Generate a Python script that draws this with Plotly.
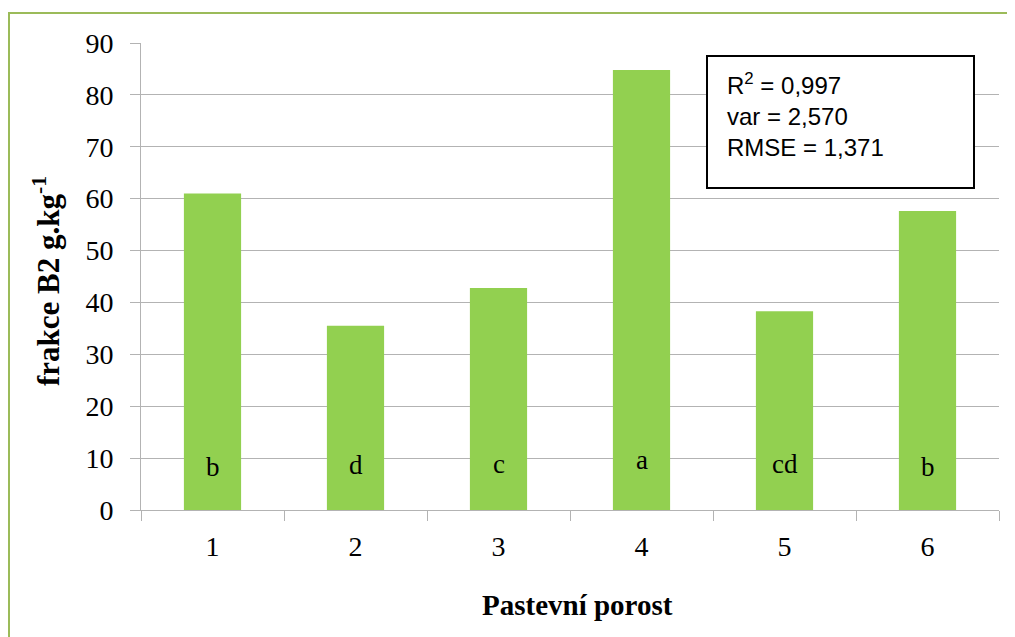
import plotly.graph_objects as go

categories = ["1", "2", "3", "4", "5", "6"]
values = [61.0, 35.5, 42.8, 84.8, 38.3, 57.6]
letters = ["b", "d", "c", "a", "cd", "b"]
letter_y = [8.3, 8.6, 8.9, 9.6, 8.9, 8.3]
y_ticks = [0, 10, 20, 30, 40, 50, 60, 70, 80, 90]
stats_text = "R<sup>2</sup> = 0,997<br>var = 2,570<br>RMSE = 1,371"

serif = "Liberation Serif, Times New Roman, serif"
grid = "#b3b3b3"

# body margin of the html page offsets the figure by 8px
OFF = 8
PL, PR, PT, PB = 141, 999, 43, 510
PW, PH = PR - PL, PB - PT


def px(x):
    return (x - PL) / PW


def py(y):
    return (PB - y) / PH


fig = go.Figure()
fig.add_trace(go.Bar(x=categories, y=values, marker=dict(color="#92D050", line=dict(width=0)),
                     width=0.4, hoverinfo="skip"))

for i, (l, ly) in enumerate(zip(letters, letter_y)):
    fig.add_annotation(x=i, y=ly, text=l, showarrow=False, xref="x", yref="y",
                       font=dict(family=serif, size=27, color="black"), yanchor="middle")

fig.add_annotation(x=px(46), y=py(281), xref="paper", yref="paper", text="<b>frakce B2 g.kg<sup>-1</sup></b>",
                   textangle=-90, showarrow=False, font=dict(family=serif, size=31, color="black"),
                   xanchor="center", yanchor="middle")
fig.add_annotation(x=px(577), y=py(605), xref="paper", yref="paper", text="<b>Pastevní porost</b>",
                   showarrow=False, font=dict(family=serif, size=29, color="black"),
                   xanchor="center", yanchor="middle")

# stats box
fig.add_shape(type="rect", xref="paper", yref="paper",
              x0=px(707), x1=px(974), y0=py(188), y1=py(56),
              line=dict(color="black", width=2), fillcolor="white", layer="above")
fig.add_annotation(x=px(725), y=py(115), xref="paper", yref="paper",
                   text=stats_text, showarrow=False, align="left", xanchor="left", yanchor="middle",
                   font=dict(family="Liberation Sans, Arial, sans-serif", size=24, color="black"))

# outer green frame (partially outside the view)
fig.add_shape(type="rect", xref="paper", yref="paper",
              x0=px(9), x1=px(1040), y0=py(680), y1=py(13),
              line=dict(color="#9BBB59", width=2), fillcolor="rgba(0,0,0,0)", layer="below")

fig.update_layout(
    width=1015 - OFF, height=637 - OFF,
    margin=dict(l=PL - OFF, r=1015 - PR, t=PT - OFF, b=637 - PB, pad=0),
    paper_bgcolor="white", plot_bgcolor="white",
    showlegend=False, bargap=0.6,
    xaxis=dict(type="category", range=[-0.5, 5.5], showgrid=False, showline=True, linecolor=grid, linewidth=1,
               ticks="outside", tickson="boundaries", ticklen=10, tickcolor=grid,
               tickfont=dict(family=serif, size=28, color="black"), ticklabelstandoff=11),
    yaxis=dict(range=[0, 90], tickvals=y_ticks, showgrid=True, gridcolor=grid, gridwidth=1,
               showline=True, linecolor=grid, linewidth=1, ticks="outside", ticklen=10,
               tickcolor=grid, zeroline=False,
               tickfont=dict(family=serif, size=28, color="black"), ticklabelstandoff=11),
)

fig.write_html("out.html")
